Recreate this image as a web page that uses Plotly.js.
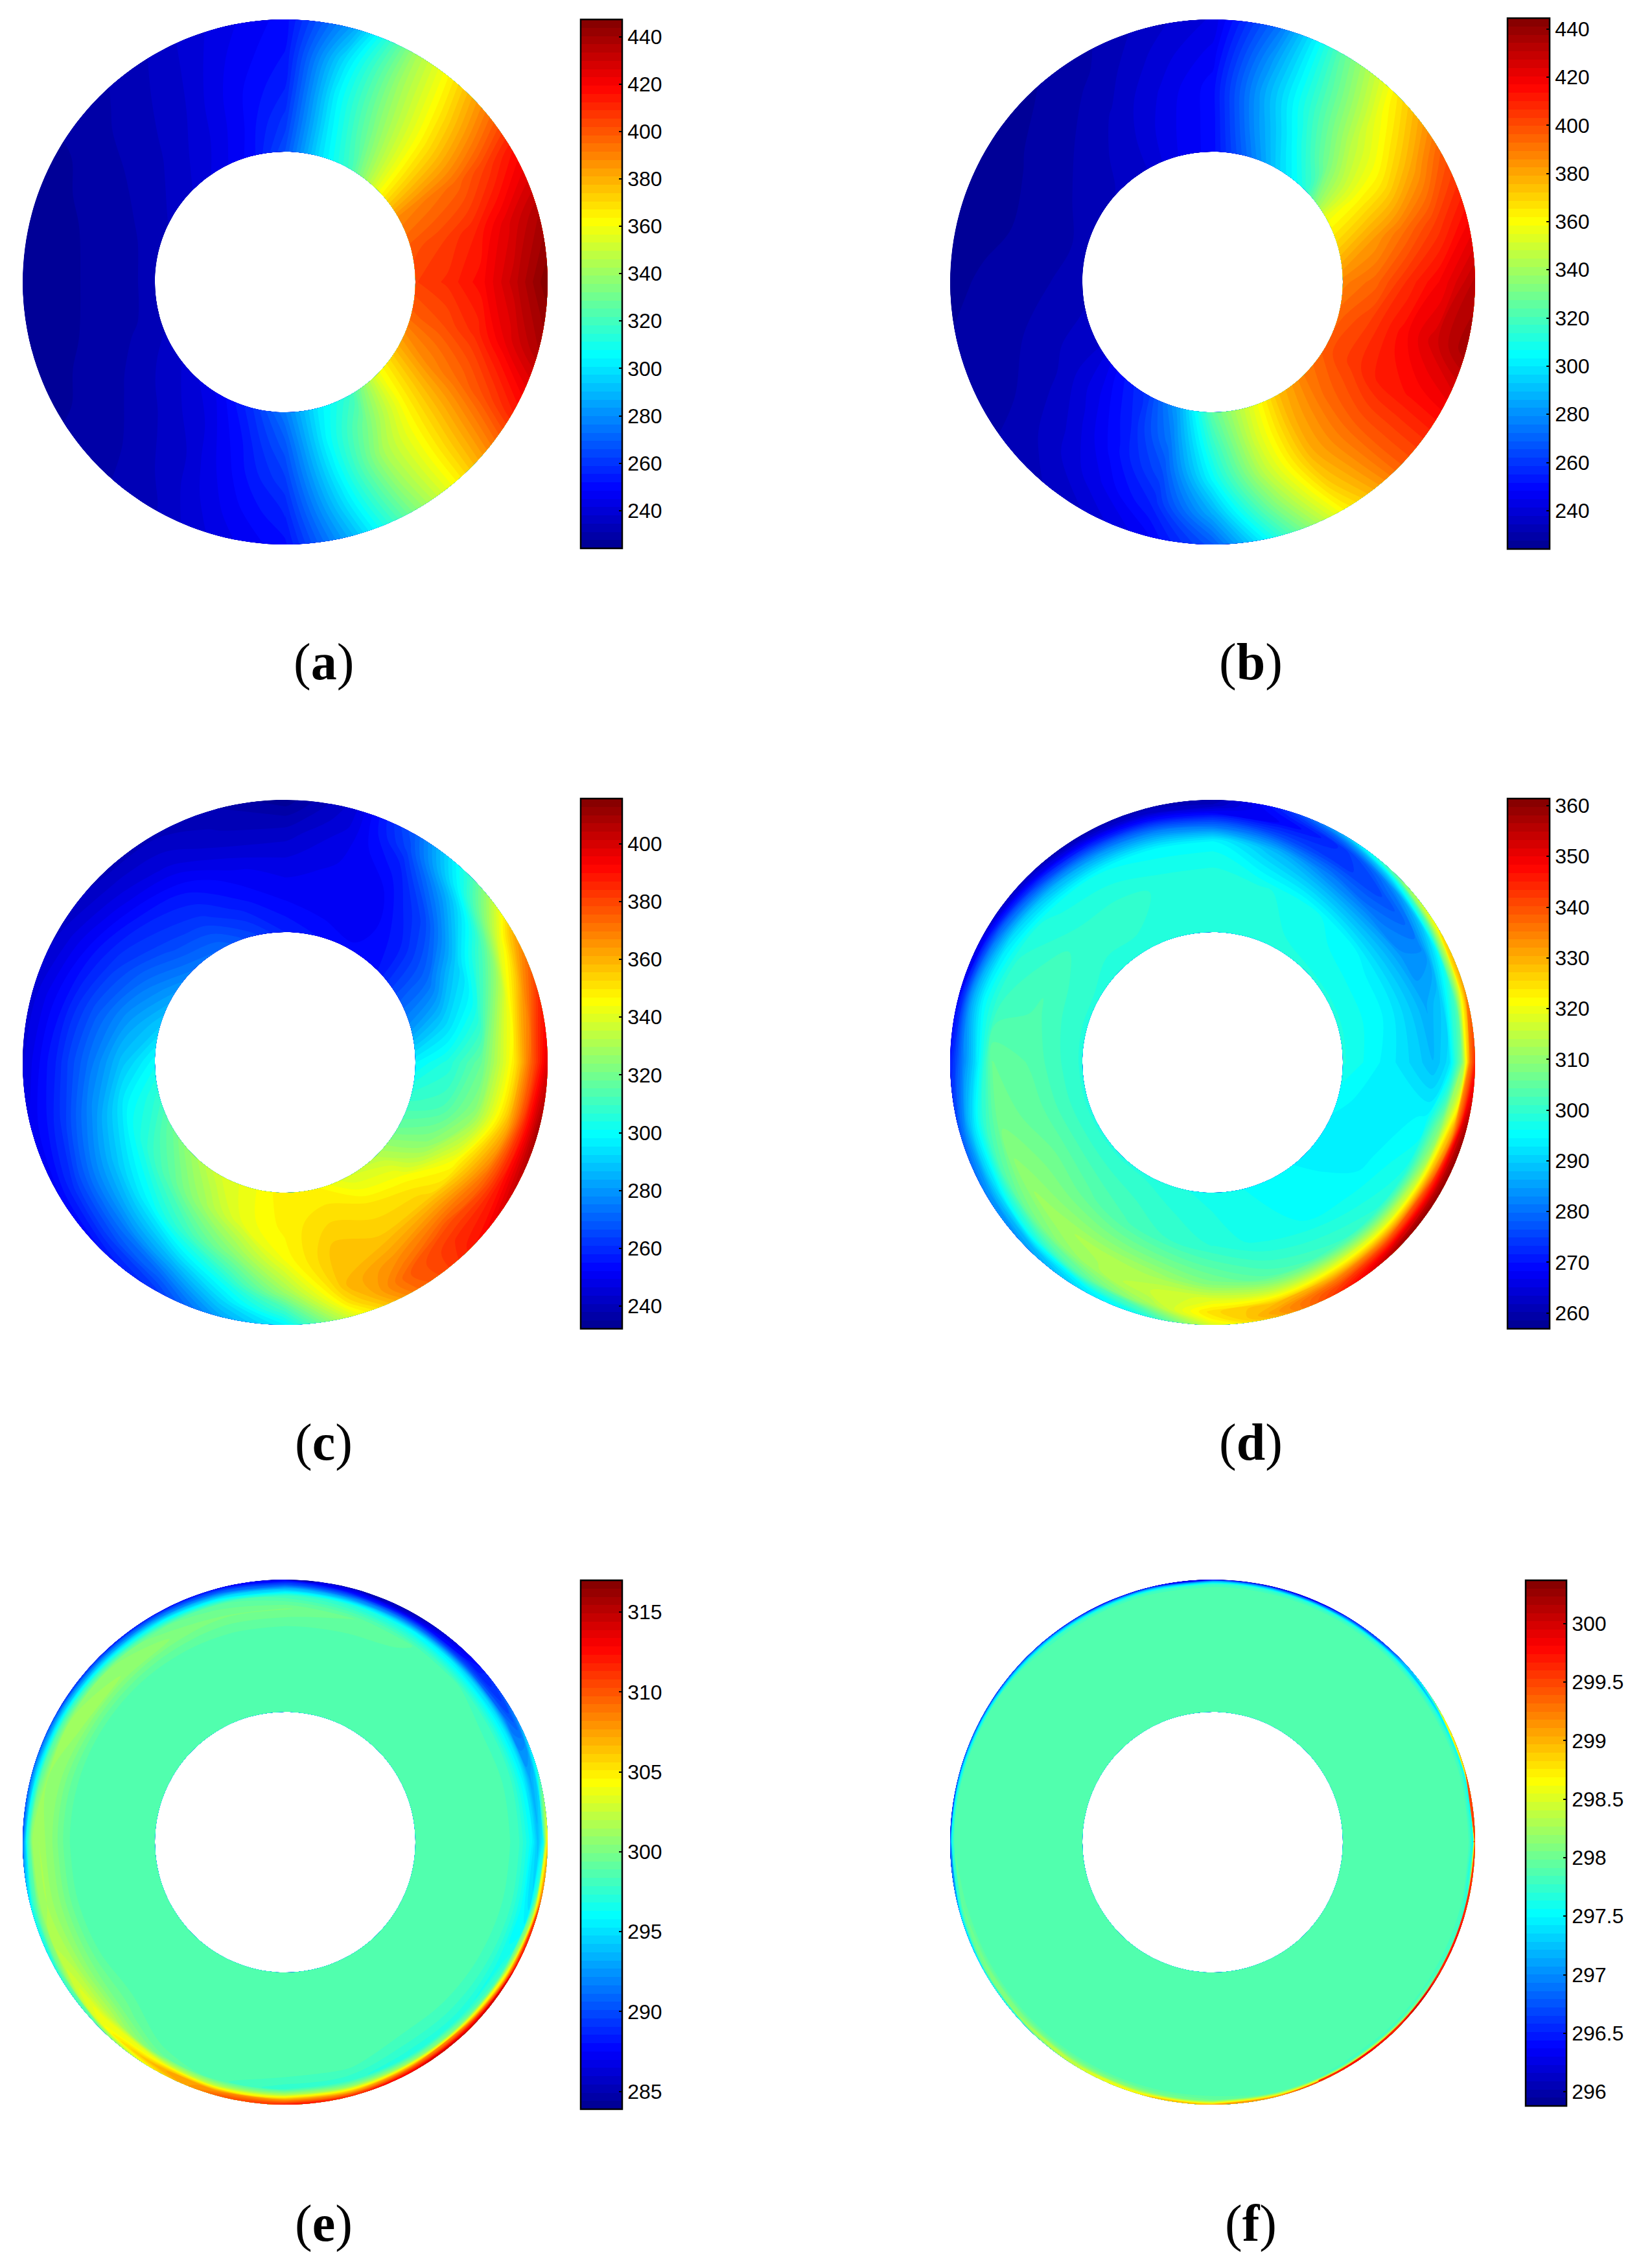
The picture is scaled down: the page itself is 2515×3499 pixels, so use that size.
<!DOCTYPE html>
<html>
<head>
<meta charset="utf-8">
<script src="https://cdn.plot.ly/plotly-3.0.1.min.js"></script>
<style>html,body{margin:0;padding:0;background:#fff}</style>
</head>
<body>
<div id="chart" style="width:2515px;height:3499px"></div>
<script>
// Angles of the table rows, degrees counter-clockwise from the right-hand side.
const angles = [0,15,30,45,60,75,90,105,120,135,150,165,180,195,210,225,240,255,270,285,300,315,330,345];

const captions = ['a','b','c','d','e','f'];

const ringsA = [201,252,303,354,405];
const tempA = [
[405,410,418,432,447],[400,405,412,425,437],[388,392,396,405,416],[358,362,366,372,380],
[320,330,336,340,342],[298,300,302,298,285],[266,260,255,252,250],[250,248,247,245,243],
[243,240,238,236,235],[238,235,233,232,230],[235,232,230,228,227],[233,230,228,227,226],
[232,230,228,226,225],[233,230,228,227,226],[236,233,230,228,227],[240,236,233,231,230],
[246,241,238,236,234],[258,252,249,246,243],[276,268,262,256,251],[302,305,303,298,290],
[318,332,342,340,335],[358,363,368,372,375],[380,388,394,402,412],[397,402,410,424,437]];
const ticksA = [240,260,280,300,320,340,360,380,400,420,440];

const ringsB = [201,252,303,354,405];
const tempB = [
[388,395,408,418,432],[372,382,392,403,415],[356,360,366,380,396],[312,332,345,355,366],
[295,305,315,320,326],[272,280,285,282,275],[250,250,250,246,242],[245,244,242,239,236],
[238,237,235,232,230],[235,233,231,229,227],[233,231,229,227,226],[232,230,228,227,226],
[233,231,229,228,227],[235,233,231,229,228],[238,236,233,231,230],[250,244,239,236,233],
[260,255,250,244,238],[285,275,265,256,247],[325,315,305,288,268],[350,350,345,332,315],
[375,378,378,372,362],[390,394,396,396,395],[398,405,412,414,416],[395,404,415,426,437]];
const ticksB = [240,260,280,300,320,340,360,380,400,420,440];

const ringsC = [201,252,303,354,380,405];
const tempC = [
[298,305,318,350,375,398],[280,290,303,342,365,385],[268,272,290,315,340,360],[255,258,265,285,300,310],
[253,250,252,258,265,270],[255,250,250,248,246,245],[258,252,248,242,238,233],[265,256,250,242,240,238],
[272,262,255,246,243,240],[275,265,258,248,244,240],[282,272,262,252,247,243],[290,280,268,255,250,245],
[300,288,273,258,252,246],[308,298,280,262,255,250],[318,305,288,270,260,252],[328,315,297,275,265,255],
[338,328,310,285,272,262],[343,342,325,302,292,282],[349,348,345,328,312,298],[347,352,357,358,352,340],
[338,350,355,368,375,372],[332,345,355,378,385,388],[318,325,345,372,388,402],[308,312,325,358,385,410]];
const ticksC = [240,260,280,300,320,340,360,380,400];

const ringsD = [201,280,340,365,385,397,405];
const tempD = [
[298,293,288,292,308,335,345],[298,294,286,290,302,322,335],[298,294,283,282,292,312,325],[298,295,280,276,282,295,308],
[298,297,282,274,273,280,288],[298,298,288,276,268,270,272],[299,299,295,280,268,262,260],[299,299,295,283,270,263,261],
[299,300,296,285,272,264,260],[299,300,297,288,275,266,262],[299,302,299,292,280,270,264],[299,303,301,295,285,274,268],
[299,304,306,292,282,275,271],[299,305,307,300,290,282,277],[299,306,310,304,292,285,282],[299,305,312,308,298,288,285],
[299,303,313,312,305,295,292],[298,301,312,316,312,303,298],[297,299,308,318,325,322,318],[296,297,304,316,329,332,330],
[295,296,302,318,335,342,345],[294,295,300,318,340,352,358],[294,294,298,316,342,355,360],[295,293,295,308,330,352,358]];
const ticksD = [260,270,280,290,300,310,320,330,340,350,360];

const ringsE = [201,330,360,380,390,398,405];
const tempE = [
[298.8,298.8,298,296,294,296,306],[298.8,298.8,298,295.5,293,294,298],[298.8,298.8,298,295,291,290,292],[298.8,298.8,298.5,295,290,288,287],
[298.8,298.8,299,296,291,287,285],[298.8,298.8,299.5,297,292,288,286],[298.8,298.8,300,298,294,290,287],[298.8,298.8,300,299,295,291,288],
[298.8,298.8,300.5,299.5,296,292,288.5],[298.8,298.8,301,300.5,297,293,289],[298.8,298.8,301,301,298,294,290],[298.8,298.8,300.5,301,299,295,291],
[298.8,298.8,300.5,301.5,301,297,291],[298.8,298.8,300.5,301.5,301,298.5,296],[298.8,298.8,300.5,302,302.5,300,297],[298.8,298.8,300,302,304,304,299],
[298.8,298.8,298.5,299.5,304,307,305],[298.8,298.8,298.5,298.5,302,308,310],[298.8,298.8,298.5,297.5,302,308,312],[298.8,298.8,298.5,297.5,301,307,312],
[298.8,298.8,298,297,301,309,314],[298.8,298.8,298,297,300,309,315],[298.8,298.8,298,296.5,298,305,314],[298.8,298.8,298,296,295,301,311]];
const ticksE = [285,290,295,300,305,310,315];

const ringsF = [201,390,398,402,405];
const tempF = [
[297.9,297.9,297.8,297.5,299.6],[297.9,297.9,297.8,297.5,299.5],[297.9,297.9,297.7,297.3,298.6],[297.9,297.9,297.7,297.2,296.8],
[297.9,297.9,297.7,297.0,296.4],[297.9,297.9,297.7,297.0,296.2],[297.9,297.9,297.75,297.2,296.3],[297.9,297.9,297.75,297.2,296.4],
[297.9,297.9,297.75,297.2,296.4],[297.9,297.9,297.8,297.3,296.6],[297.9,297.9,297.9,297.4,296.6],[297.9,297.9,297.9,297.5,296.7],
[297.9,297.9,297.9,297.6,296.7],[297.9,297.9,298,297.7,297.2],[297.9,297.9,298.1,298,297.5],[297.9,297.9,298.1,298.3,297.8],
[297.9,297.9,298.1,298.4,298.5],[297.9,297.9,298.1,298.5,298.9],[297.9,297.9,298,298.5,299.1],[297.9,297.9,297.9,298.5,299.3],
[297.9,297.9,297.8,298.5,299.8],[297.9,297.9,297.8,298.4,300],[297.9,297.9,297.8,298,300],[297.9,297.9,297.8,297.7,299.8]];
const ticksF = [296,296.5,297,297.5,298,298.5,299,299.5,300];

// MATLAB jet
const jet = [[0,'rgb(0,0,143)'],[0.111,'rgb(0,0,255)'],[0.365,'rgb(0,255,255)'],[0.619,'rgb(255,255,0)'],[0.873,'rgb(255,0,0)'],[1,'rgb(128,0,0)']];

const W = 2515, H = 3499, R = 405;
// Layout in pixels: circle centre, colour-bar box, caption centre, colour range
const panels = [
 {rings:ringsA,temp:tempA,ticks:ticksA,cx:440, cy:435,  bar:[896,960,30.5,846],  cap:[499,1022], lim:[224,447.2]},
 {rings:ringsB,temp:tempB,ticks:ticksB,cx:1871,cy:435,  bar:[2326,2391,27.7,846.5],cap:[1930,1022],lim:[224.2,444.6]},
 {rings:ringsC,temp:tempC,ticks:ticksC,cx:440, cy:1639,bar:[896,960,1232,2050],cap:[499,2225.5],lim:[232.2,415.6]},
 {rings:ringsD,temp:tempD,ticks:ticksD,cx:1871,cy:1639,bar:[2326,2391,1232,2050],cap:[1930,2225.5],lim:[256.9,361.4]},
 {rings:ringsE,temp:tempE,ticks:ticksE,cx:440, cy:2842, bar:[896,960,2438,3253.7],cap:[499,3430],lim:[283.9,317]},
 {rings:ringsF,temp:tempF,ticks:ticksF,cx:1871,cy:2842, bar:[2354,2417,2438,3248.7],cap:[1930,3430],lim:[295.88,300.37]}
];

const traces = [], shapes = [], annotations = [];
const layout = {width:W,height:H,margin:{l:0,r:0,t:0,b:0},paper_bgcolor:'#fff',plot_bgcolor:'rgba(0,0,0,0)',showlegend:false};
const hidden = {visible:false,showline:false,showgrid:false,zeroline:false,fixedrange:true};
// Each ring is drawn as four overlapping sectors of the same table.
const sectors = [[0,7],[6,13],[12,19],[18,24]];

panels.forEach((p,k)=>{
  const n = k+1, xa = n===1?'x':'x'+n, ya = n===1?'y':'y'+n;
  const pad = 6;
  layout['xaxis'+(n===1?'':n)] = Object.assign({},hidden,{range:[-R-pad,R+pad],domain:[(p.cx-R-pad)/W,(p.cx+R+pad)/W],anchor:ya});
  layout['yaxis'+(n===1?'':n)] = Object.assign({},hidden,{range:[-R-pad,R+pad],domain:[1-(p.cy+R+pad)/H,1-(p.cy-R-pad)/H],anchor:xa});
  const thetaAll = angles.concat([360]);
  const zAll = p.temp.concat([p.temp[0]]);
  const [x0,x1,y0,y1] = p.bar, [zmin,zmax] = p.lim, step=(zmax-zmin)/64;
  sectors.forEach(([from,to],s)=>{
    const theta = thetaAll.slice(from,to+1);
    const X = theta.map(t=>p.rings.map(r=>r*Math.cos(t*Math.PI/180)));
    const Y = theta.map(t=>p.rings.map(r=>r*Math.sin(t*Math.PI/180)));
    const Z = zAll.slice(from,to+1);
    const id = 'c'+n+'_'+s;
    const axis = {showgrid:false,showline:false,startline:false,endline:false,showticklabels:'none',tickmode:'array',tickvals:[],minorgridcount:0,smoothing:1};
    traces.push({type:'carpet',carpet:id,a:p.rings,b:theta,x:X,y:Y,xaxis:xa,yaxis:ya,aaxis:axis,baxis:axis});
    const tr = {type:'contourcarpet',carpet:id,a:p.rings,b:theta,z:Z,xaxis:xa,yaxis:ya,
      autocontour:false,contours:{coloring:'fill',showlines:false,start:zmin,end:zmax,size:step},
      line:{width:0},zauto:false,zmin:zmin,zmax:zmax,colorscale:jet,showscale:s===0};
    if(s===0) tr.colorbar = {x:x0/W,xanchor:'left',xpad:0,ypad:0,y:1-(y0+y1)/2/H,yanchor:'middle',len:(y1-y0)/H,lenmode:'fraction',
        thickness:x1-x0,thicknessmode:'pixels',outlinewidth:2.5,outlinecolor:'#000',borderwidth:0,
        ticks:'inside',ticklen:6,tickwidth:2,tickcolor:'#000',tickmode:'array',tickvals:p.ticks,ticktext:p.ticks.map(String),
        tickfont:{family:'Liberation Sans',size:32,color:'#000'}};
    traces.push(tr);
  });
  p.ticks.forEach(v=>{
    const yy = y1-(v-zmin)/(zmax-zmin)*(y1-y0);
    shapes.push({type:'line',xref:'paper',yref:'paper',x0:x0/W,x1:(x0+6)/W,y0:1-yy/H,y1:1-yy/H,line:{color:'#000',width:2}});
  });
  annotations.push({xref:'paper',yref:'paper',x:p.cap[0]/W,y:1-p.cap[1]/H,xanchor:'center',yanchor:'middle',showarrow:false,
    text:'(<b>'+captions[k]+'</b>)',font:{family:'Liberation Serif',size:80,color:'#000'}});
});
layout.shapes = shapes; layout.annotations = annotations;
Plotly.newPlot('chart',traces,layout,{displayModeBar:false,responsive:false,staticPlot:true});
</script>
</body>
</html>
